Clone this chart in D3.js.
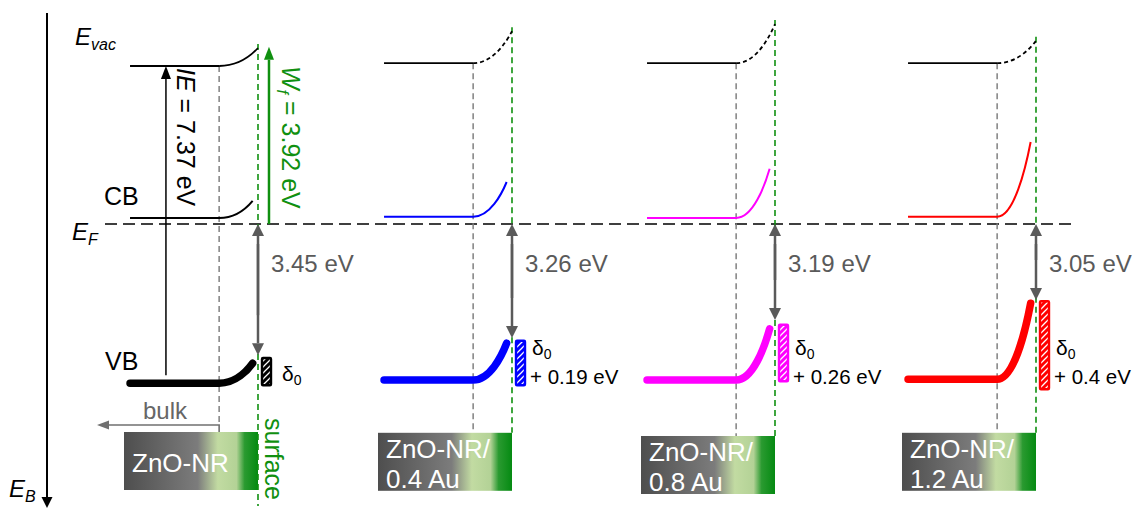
<!DOCTYPE html>
<html>
<head>
<meta charset="utf-8">
<script src="https://cdn.jsdelivr.net/npm/d3@7"></script>
<style>
  body { margin: 0; background: #fff; }
  svg { display: block; }
  text { font-family: "Liberation Sans", Arial, sans-serif; }
</style>
</head>
<body>
<div id="chart"></div>
<script>
// samples and their labels
var samples = ["ZnO-NR", "ZnO-NR/0.4 Au", "ZnO-NR/0.8 Au", "ZnO-NR/1.2 Au"];
var boxLines = [["ZnO-NR"], ["ZnO-NR/", "0.4 Au"], ["ZnO-NR/", "0.8 Au"], ["ZnO-NR/", "1.2 Au"]];
var bandColors = ["#000000", "#0000ff", "#ff00ff", "#ff0000"];
var gapLabels = ["3.45 eV", "3.26 eV", "3.19 eV", "3.05 eV"];
var deltaLabels = ["", "+ 0.19 eV", "+ 0.26 eV", "+ 0.4 eV"];

// schematic level positions, in eV below E_F (negative = above E_F)
var evacBulk = [-3.95, -4.02, -4.02, -4.02];
var evacSurf = [-4.4, -4.82, -5.0, -4.58];
var cbBulk = [-0.15, -0.18, -0.15, -0.18];
var cbSurf = [-0.58, -1.05, -1.38, -2.05];
var vbBulk = [3.98, 3.9, 3.9, 3.88];
var vbSurf = [3.48, 2.98, 2.62, 1.98];
var gapEnd = [3.28, 2.85, 2.4, 1.9];
var deltaTop = [3.35, 2.92, 2.52, 1.93];
var deltaBottom = [4.03, 4.03, 3.93, 4.13];
var boxTop = [5.2, 5.22, 5.3, 5.22];

var width = 1139, height = 508;
var green = "#109010", grey = "#5a5a5a";

var svg = d3.select("#chart").append("svg")
    .attr("width", width)
    .attr("height", height);

var defs = svg.append("defs");
var grad = defs.append("linearGradient").attr("id", "nr");
[[0, "#4e4e4e"], [0.55, "#7c7c7c"], [0.7, "#c2dba2"], [0.84, "#b3d296"], [0.9, "#2a9a30"], [1, "#058a12"]]
    .forEach(function (s) {
        grad.append("stop").attr("offset", s[0]).attr("stop-color", s[1]);
    });
bandColors.forEach(function (c, i) {
    var p = defs.append("pattern").attr("id", "hatch" + i)
        .attr("patternUnits", "userSpaceOnUse").attr("width", 6).attr("height", 6);
    p.append("rect").attr("width", 6).attr("height", 6).attr("fill", c);
    p.append("path").attr("d", "M0,6 L6,0 M-1,1 L1,-1 M5,7 L7,5")
        .attr("stroke", "#fff").attr("stroke-width", 1.3);
});

// scales
var y = d3.scaleLinear().domain([-4, 4]).range([64, 384]);
var xSurf = d3.scaleOrdinal().domain(samples).range([258, 512, 775, 1036]);
var depth = d3.scaleLinear().domain([0, 1]).range([0, -134]);
var lineStart = 0.955, bendStart = 0.29, curveEnd = 0.04;

function arrow(x1, y1, x2, y2, color, w, hw, hl) {
    var ang = Math.atan2(y2 - y1, x2 - x1);
    var bx = x2 - hl * Math.cos(ang), by = y2 - hl * Math.sin(ang);
    svg.append("line").attr("x1", x1).attr("y1", y1).attr("x2", bx).attr("y2", by)
        .attr("stroke", color).attr("stroke-width", w);
    var nx = -Math.sin(ang) * hw / 2, ny = Math.cos(ang) * hw / 2;
    svg.append("path")
        .attr("d", "M" + x2 + "," + y2 + "L" + (bx + nx) + "," + (by + ny) + "L" + (bx - nx) + "," + (by - ny) + "Z")
        .attr("fill", color);
}

function bendPath(x0, yb, x1, ye) {
    var w = x1 - x0, p = d3.path();
    p.moveTo(x0, yb);
    p.bezierCurveTo(x0 + 0.5 * w, yb, x1 - 0.15 * w, ye + 0.35 * (yb - ye), x1, ye);
    return p.toString();
}

// E_B axis
svg.append("line").attr("x1", 47).attr("y1", 13).attr("x2", 47).attr("y2", 497)
    .attr("stroke", "#000").attr("stroke-width", 2);
arrow(47, 480, 47, 508, "#000", 0, 11, 11);

// Fermi level
svg.append("line").attr("x1", 105).attr("y1", y(0)).attr("x2", 1072).attr("y2", y(0))
    .attr("stroke", "#000").attr("stroke-width", 1.6).attr("stroke-dasharray", "12,6");

samples.forEach(function (s, i) {
    var xs = xSurf(s);
    var xb = xs + depth(bendStart);
    var x0 = xs + depth(lineStart);
    var xe = xs + depth(curveEnd);
    var c = bandColors[i];

    // box
    svg.append("rect").attr("x", xs + depth(1)).attr("y", y(boxTop[i]))
        .attr("width", -depth(1)).attr("height", 58).attr("fill", "url(#nr)");
    boxLines[i].forEach(function (t, k) {
        svg.append("text").attr("x", xs + depth(1) + 8)
            .attr("y", y(boxTop[i]) + (i === 0 ? 40 : 25 + 30 * k))
            .attr("fill", "#fff").attr("font-size", 26).text(t);
    });

    // guide lines
    svg.append("line").attr("x1", xb).attr("y1", y(evacBulk[i]))
        .attr("x2", xb).attr("y2", i === 0 ? 425 : y(boxTop[i]))
        .attr("stroke", "#808080").attr("stroke-width", 1.5).attr("stroke-dasharray", "6,4");
    svg.append("line").attr("x1", xs).attr("y1", y(evacSurf[i]) - 4)
        .attr("x2", xs).attr("y2", i === 0 ? 506 : y(boxTop[i]))
        .attr("stroke", green).attr("stroke-width", 1.6).attr("stroke-dasharray", "6,4");

    // vacuum level
    svg.append("line").attr("x1", x0).attr("y1", y(evacBulk[i])).attr("x2", xb).attr("y2", y(evacBulk[i]))
        .attr("stroke", "#000").attr("stroke-width", 1.8);
    svg.append("path").attr("d", bendPath(xb, y(evacBulk[i]), xs, y(evacSurf[i])))
        .attr("fill", "none").attr("stroke", "#000").attr("stroke-width", 1.8)
        .attr("stroke-dasharray", i === 0 ? null : "4,3");

    // conduction band
    svg.append("path")
        .attr("d", "M" + x0 + "," + y(cbBulk[i]) + "L" + xb + "," + y(cbBulk[i]) +
            bendPath(xb, y(cbBulk[i]), xe, y(cbSurf[i])).replace(/^M[^C]*/, ""))
        .attr("fill", "none").attr("stroke", c).attr("stroke-width", 2);

    // valence band
    svg.append("path")
        .attr("d", "M" + x0 + "," + y(vbBulk[i]) + "L" + xb + "," + y(vbBulk[i]) +
            bendPath(xb, y(vbBulk[i]), xe, y(vbSurf[i])).replace(/^M[^C]*/, ""))
        .attr("fill", "none").attr("stroke", c).attr("stroke-width", 7.5)
        .attr("stroke-linecap", "round");

    // VB-E_F gap arrow
    arrow(xs, y(gapEnd[i]) - 40, xs, y(0), grey, 2.5, 12, 12);
    arrow(xs, y(0) + 20, xs, y(gapEnd[i]), grey, 2.5, 12, 12);
    svg.append("text").attr("x", xs + 13).attr("y", 272)
        .attr("fill", grey).attr("font-size", 24).text(gapLabels[i]);

    // delta box
    svg.append("rect").attr("x", xs + 4).attr("y", y(deltaTop[i]))
        .attr("width", 9).attr("height", y(deltaBottom[i]) - y(deltaTop[i]))
        .attr("fill", "url(#hatch" + i + ")").attr("stroke", c).attr("stroke-width", 2.4)
        .attr("rx", 1);
    var dl = svg.append("text").attr("x", xs + (i === 0 ? 24 : 20)).attr("y", i === 0 ? 381 : 355)
        .attr("font-family", "Lato, 'Open Sans', sans-serif").attr("font-size", 21);
    dl.append("tspan").text("δ");
    dl.append("tspan").attr("font-size", 14).attr("dy", 4).text("0");
    if (deltaLabels[i]) {
        svg.append("text").attr("x", xs + 18).attr("y", 384)
            .attr("font-family", "Lato, 'Open Sans', sans-serif").attr("font-size", 20.5)
            .text(deltaLabels[i]);
    }
});

// first panel annotations
var x1 = xSurf(samples[0]);
arrow(x1 + depth(0.687), y(3.78), x1 + depth(0.687), y(evacBulk[0]), "#000", 1.5, 10, 13);
arrow(x1 + depth(-0.082), y(0), x1 + depth(-0.082), y(-4.43), green, 2.5, 10, 13);

// bulk arrow
svg.append("polyline")
    .attr("points", [[x1 + depth(bendStart), y(boxTop[0])], [x1 + depth(bendStart), 425], [108, 425]].join(" "))
    .attr("fill", "none").attr("stroke", "#707070").attr("stroke-width", 1.6);
arrow(110, 425, 97, 425, "#707070", 0, 9, 12);
svg.append("text").attr("x", 143).attr("y", 419).attr("fill", "#666").attr("font-size", 24).text("bulk");

// rotated labels
var ie = svg.append("text").attr("transform", "translate(177,68) rotate(90)").attr("font-size", 25);
ie.append("tspan").attr("font-style", "italic").text("IE");
ie.append("tspan").text(" = 7.37 eV");
var wf = svg.append("text").attr("transform", "translate(282,66) rotate(90)")
    .attr("font-size", 25).attr("fill", green);
wf.append("tspan").attr("font-style", "italic").text("W");
wf.append("tspan").attr("font-style", "italic").attr("font-size", 16).attr("dy", 5).text("f");
wf.append("tspan").attr("dy", -5).text(" = 3.92 eV");
svg.append("text").attr("transform", "translate(265,418) rotate(90)")
    .attr("font-size", 25).attr("fill", green).text("surface");

svg.append("text").attr("x", 104).attr("y", 205).attr("font-size", 25).text("CB");
svg.append("text").attr("x", 105).attr("y", 370).attr("font-size", 25).text("VB");

// energy labels
function eLabel(x, yy, sub) {
    var t = svg.append("text").attr("x", x).attr("y", yy).attr("font-size", 24).attr("font-style", "italic");
    t.append("tspan").text("E");
    t.append("tspan").attr("font-size", 16).attr("dy", 5).text(sub);
}
eLabel(75, 45, "vac");
eLabel(72, 240, "F");
eLabel(9, 497, "B");
</script>
</body>
</html>
